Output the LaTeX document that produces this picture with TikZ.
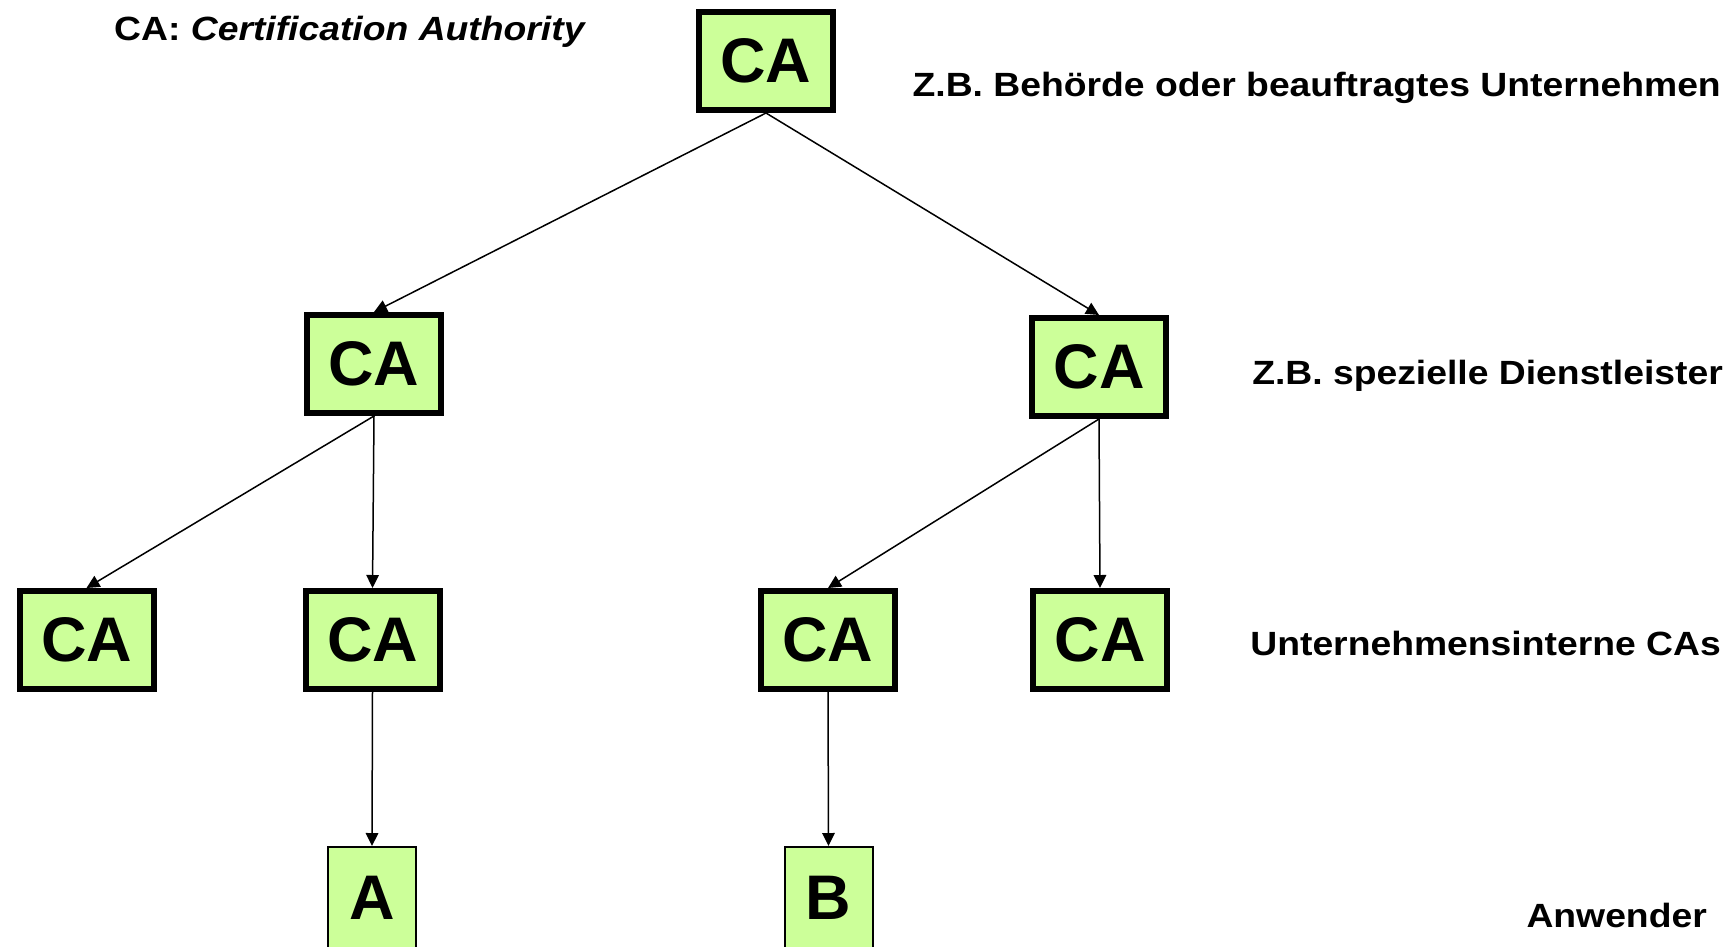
\documentclass[tikz,border=0pt]{standalone}
\usepackage{fontspec}
\setmainfont{Liberation Sans}
\newfontfamily\lblfont[FakeStretch=1.11]{Liberation Sans}
\usetikzlibrary{arrows.meta}
\definecolor{boxgreen}{RGB}{204,255,153}
\begin{document}
\begin{tikzpicture}[x=1pt,y=-1pt,
  cabox/.style={draw=black, fill=boxgreen, line width=6pt, minimum width=134pt, minimum height=98pt, inner sep=0pt, font=\fontsize{63}{63}\selectfont\bfseries},
  userbox/.style={draw=black, fill=boxgreen, line width=2pt, minimum width=88pt, minimum height=102pt, inner sep=0pt, font=\fontsize{63}{63}\selectfont\bfseries},
  conn/.style={line width=1.5pt, -{Triangle[length=13pt,width=12.5pt]}},
  lbl/.style={inner sep=0pt, font=\lblfont\fontsize{33.6}{36}\selectfont\bfseries}]
\clip (0,0) rectangle (1735,946);
\useasboundingbox (0,0) rectangle (1735,946);

\node[cabox] (top) at (766,61) {CA};
\node[cabox] (l2a) at (374,364) {CA};
\node[cabox] (l2b) at (1099,367) {CA};
\node[cabox] (l3a) at (86.5,640) {CA};
\node[cabox] (l3b) at (372.5,640) {CA};
\node[cabox] (l3c) at (828,640) {CA};
\node[cabox] (l3d) at (1100,640) {CA};
\node[userbox] (ua) at (372,898) {A};
\node[userbox] (ub) at (828.5,898) {B};

\draw[conn] (top.south) -- (l2a.north);
\draw[conn] (top.south) -- (l2b.north);
\draw[conn] (l2a.south) -- (l3a.north);
\draw[conn] (l2a.south) -- (l3b.north);
\draw[conn] (l2b.south) -- (l3c.north);
\draw[conn] (l2b.south) -- (l3d.north);
\draw[conn] (l3b.south) -- (ua.north);
\draw[conn] (l3c.south) -- (ub.north);

\node[lbl, anchor=base west] (title) at (114,40.5) {CA: \itshape Certification Authority};
\node[lbl, anchor=base east] (t1) at (1721,96) {Z.B. Behörde oder beauftragtes Unternehmen};
\node[lbl, anchor=base east] (t2) at (1723,384) {Z.B. spezielle Dienstleister};
\node[lbl, anchor=base east] (t3) at (1721,655.5) {Unternehmensinterne CAs};
\node[lbl, anchor=base east] (t4) at (1707,927.5) {Anwender};
\end{tikzpicture}
\end{document}
